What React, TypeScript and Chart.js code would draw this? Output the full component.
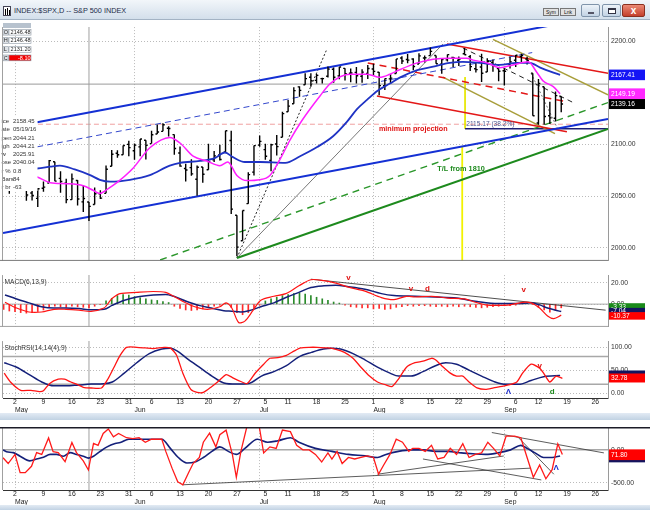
import React, { useEffect, useRef } from 'react';
import { Chart, registerables } from 'chart.js';

Chart.register(...registerables);

const FONT = '"Liberation Sans", Arial, Helvetica, sans-serif';
const GRID = 'rgba(105,105,105,0.45)';

// ---------- x axis: trading-day index (0 = 2 May 2016) ----------
const X_MIN = -2.11;
const X_MAX = 104.22;
const FIRST_BAR_INDEX = -2; // 28 Apr 2016
const weekTickIdx = [0, 5, 10, 15, 20, 24, 29, 34, 39, 44, 48, 53, 58, 63, 68, 73, 78, 83, 88, 92, 97, 102];
const weekTickLabels = ['2', '9', '16', '23', '31', '6', '13', '20', '27', '5', '11', '18', '25', '1', '8', '15', '22', '29', '6', '12', '19', '26'];
const monthStartIdx = [0, 21, 43, 63, 86];
const monthLabels = ['May', 'Jun', 'Jul', 'Aug', 'Sep'];

// ---------- S&P 500 daily bars (28 Apr – 16 Sep 2016) ----------
const opens = [2090.93, 2071.82,
  2067.17, 2077.18, 2060.30, 2052.95, 2047.77,
  2057.55, 2062.63, 2083.29, 2067.17, 2062.50,
  2046.53, 2065.04, 2044.38, 2044.21, 2041.88,
  2052.23, 2052.65, 2078.93, 2091.44, 2090.06,
  2100.13, 2093.94, 2097.71, 2104.07,
  2100.83, 2110.18, 2112.71, 2115.65, 2109.57,
  2091.75, 2076.65, 2077.60, 2066.36, 2078.20,
  2075.58, 2085.19, 2089.75, 2092.80, 2103.81,
  2031.45, 2006.67, 2042.69, 2073.17, 2099.34,
  2095.05, 2084.43, 2100.42, 2106.97,
  2131.72, 2139.50, 2155.81, 2157.88, 2165.13,
  2162.04, 2163.79, 2166.10, 2172.91, 2166.47,
  2173.71, 2168.97, 2169.81, 2166.05, 2168.83,
  2173.15, 2169.94, 2156.81, 2163.51, 2168.79,
  2183.76, 2182.24, 2182.81, 2177.97, 2183.74,
  2186.08, 2186.24, 2177.84, 2181.90, 2184.24,
  2181.58, 2187.81, 2185.09, 2173.29, 2175.10,
  2170.19, 2179.45, 2173.56, 2171.33, 2177.49,
  2181.61, 2185.17, 2182.76, 2169.08,
  2120.86, 2155.85, 2127.86, 2125.36, 2146.48];
const highs = [2099.30, 2073.85,
  2083.42, 2077.18, 2060.30, 2060.23, 2057.72,
  2064.15, 2084.87, 2083.29, 2073.99, 2066.79,
  2071.88, 2065.69, 2060.61, 2044.21, 2058.35,
  2055.58, 2079.67, 2094.73, 2094.30, 2099.06,
  2103.48, 2100.97, 2105.26, 2104.07,
  2113.36, 2119.22, 2120.55, 2117.64, 2109.57,
  2098.12, 2081.30, 2085.65, 2079.62, 2078.20,
  2100.66, 2093.66, 2099.71, 2113.32, 2113.32,
  2031.45, 2036.09, 2073.13, 2098.94, 2108.71,
  2100.72, 2100.72, 2109.08, 2131.71,
  2143.16, 2155.40, 2156.45, 2168.99, 2169.05,
  2168.35, 2164.63, 2175.63, 2174.56, 2175.11,
  2173.71, 2173.54, 2174.98, 2172.85, 2177.09,
  2178.29, 2170.20, 2163.79, 2168.19, 2182.87,
  2185.44, 2187.66, 2183.41, 2188.45, 2186.28,
  2193.81, 2186.24, 2183.08, 2187.03, 2185.00,
  2185.15, 2193.42, 2186.66, 2179.00, 2187.94,
  2183.48, 2182.27, 2173.79, 2173.56, 2184.87,
  2186.57, 2187.87, 2184.94, 2169.08,
  2163.30, 2155.85, 2141.33, 2151.31, 2146.48];
const lows = [2071.62, 2052.28,
  2066.11, 2054.89, 2045.55, 2045.77, 2039.45,
  2054.31, 2062.63, 2064.46, 2053.13, 2043.13,
  2046.53, 2040.82, 2034.49, 2025.91, 2041.88,
  2047.26, 2052.65, 2078.93, 2087.08, 2090.06,
  2088.66, 2085.10, 2088.59, 2085.36,
  2100.83, 2110.18, 2112.71, 2107.73, 2089.96,
  2078.46, 2064.10, 2069.80, 2050.37, 2062.84,
  2075.58, 2083.02, 2084.36, 2092.80, 2032.57,
  1991.68, 2006.67, 2042.69, 2070.00, 2097.90,
  2085.31, 2074.02, 2089.39, 2106.97,
  2131.72, 2139.50, 2146.21, 2157.88, 2155.79,
  2159.07, 2159.01, 2164.89, 2159.75, 2163.24,
  2161.95, 2160.18, 2159.07, 2159.74, 2163.49,
  2166.21, 2147.58, 2152.70, 2159.07, 2168.79,
  2177.85, 2178.61, 2172.00, 2177.97, 2179.42,
  2186.08, 2178.14, 2168.50, 2180.46, 2175.13,
  2175.96, 2186.80, 2171.25, 2169.74, 2160.39,
  2170.19, 2170.41, 2161.35, 2157.09, 2173.59,
  2175.10, 2179.07, 2177.49, 2127.81,
  2119.12, 2119.12, 2119.90, 2122.36, 2131.20];
const closes = [2075.81, 2065.30,
  2081.43, 2063.37, 2051.12, 2050.63, 2057.14,
  2058.69, 2084.39, 2064.46, 2064.11, 2046.61,
  2066.66, 2047.21, 2047.63, 2040.04, 2052.32,
  2048.04, 2076.06, 2090.54, 2090.10, 2099.06,
  2096.95, 2099.33, 2105.26, 2099.13,
  2109.41, 2112.13, 2119.12, 2115.48, 2096.07,
  2079.06, 2075.32, 2071.50, 2077.99, 2071.22,
  2083.25, 2088.90, 2085.45, 2113.32, 2037.41,
  2000.54, 2036.09, 2070.77, 2098.86, 2102.95,
  2088.55, 2099.73, 2097.90, 2129.90,
  2137.16, 2152.14, 2152.43, 2163.75, 2161.74,
  2166.89, 2163.78, 2173.02, 2165.17, 2175.03,
  2168.48, 2169.18, 2166.58, 2170.06, 2173.60,
  2170.84, 2157.03, 2163.79, 2164.25, 2182.87,
  2180.89, 2181.74, 2175.49, 2185.79, 2184.05,
  2190.15, 2178.15, 2182.22, 2187.02, 2183.87,
  2182.64, 2186.90, 2175.44, 2172.47, 2169.04,
  2180.38, 2176.12, 2170.95, 2170.86, 2179.98,
  2186.48, 2186.16, 2181.30, 2127.81,
  2159.04, 2127.02, 2125.77, 2147.26, 2139.16];

// ---------- moving averages [index, price] ----------
const maShort = [[-2, 2076], [1, 2072], [3.9, 2068.5], [6.2, 2063], [9.1, 2062], [12, 2060], [13.7, 2055.7], [14.9, 2052.5], [16.2, 2056.6], [17.9, 2063], [20.7, 2076.7], [23.7, 2096.8], [27.2, 2106.8], [29, 2101.4], [31.3, 2088.6], [33.7, 2084], [36, 2079.5], [37.4, 2083], [39, 2070], [40.8, 2065], [43, 2065.8], [44.8, 2070], [46.6, 2085.8], [48.3, 2104], [50.4, 2123], [53.6, 2147], [55.4, 2159], [58.9, 2168], [61.9, 2168], [64.1, 2165], [65.9, 2168], [67.7, 2172.6], [70.7, 2179], [73.5, 2182.6], [76.4, 2183.6], [79.4, 2183.6], [80.5, 2181.7], [83, 2179], [85.2, 2174.4], [87.5, 2177], [90.2, 2180], [91.7, 2170], [92.8, 2161.6], [94.6, 2156], [95.8, 2149.2]];
const maLong = [[-2, 2082], [1, 2079], [3.9, 2076.7], [6.2, 2078.5], [7.9, 2079.5], [10.5, 2075.8], [13.2, 2070.3], [14.9, 2065.8], [16.7, 2064], [20.2, 2065.8], [23.7, 2070.3], [27.2, 2079.5], [29, 2082.2], [32.5, 2084], [35.1, 2086.8], [36.9, 2092.2], [38.3, 2087.7], [40.4, 2083], [43.1, 2083], [47.5, 2082.2], [50.1, 2088.6], [53.1, 2097.5], [55.9, 2108], [58.4, 2122.4], [60.1, 2134.2], [61.9, 2143.4], [63.6, 2151.6], [65.9, 2159], [67.7, 2165], [70.7, 2172], [73.5, 2175.3], [76.4, 2179], [78.7, 2180], [81.7, 2179], [85.2, 2177], [88.2, 2179], [90.5, 2179], [92.3, 2174.4], [95.8, 2167.4]];

// ---------- hand-drawn trend lines [index, price] ----------
const channelUpper = [[3.9, 2121.5], [95.8, 2217.0]];
const channelMid = [[3.9, 2097.7], [90.9, 2189.0]];
const channelLower = [[-2.11, 2014.3], [104.22, 2124.8]];
const redUpper = [[75.9, 2197.3], [104.22, 2169.0]];
const redDashed = [[62.0, 2179.0], [96.7, 2141.6]];
const redProjection = [[63.6, 2147.0], [97.0, 2112.3]];
const oliveUpper = [[84.0, 2201.8], [104.22, 2148.0]];
const oliveLower = [[75.2, 2165.3], [94.9, 2110.5]];
const greenTrend = [[39.0, 1990.0], [104.22, 2115.1]];
const greenDashed = [[25.5, 1988.1], [104.22, 2140.6]];
const blackDotted = [[39.0, 1990.0], [54.7, 2190.9]];
const thinBlack = [[39.0, 1990.0], [75.2, 2197.3]];
const blackDashed = [[78.7, 2193.6], [98.1, 2140.6]];
const grayDotted = [[90.7, 2169.0], [95.3, 2116.0]];
const fibLevel = [[79.1, 2115.17], [104.3, 2115.17]];
const fibVertical = [[79.1, 2165.3], [79.1, 2115.17]];
const yellowMarker = [[78.6, 2097.7], [78.6, 1980]];
const pinkLevel = [[-3, 2119.6], [106, 2119.6]];
const crosshairPrice = 2158.45;
const crosshairIdx = 13;

const mainYTicks = [2000, 2050, 2100, 2200];
const mainNotes = ['minimum projection', 'T/L from 1810', '2115.17 (38.2%)'];
const mainNoteAt = [[70, 2115], [78.4, 2076.7], [79.3, 2119.4]];
const mainLastValues = [2167.41, 2149.19, 2139.16];
const mainLastTexts = ['2167.41', '2149.19', '2139.16'];
const ohlcLegendLetters = ['O', 'H', 'L', 'C'];
const ohlcLegendValues = ['2146.48', '2146.48', '2131.20', '-8.10'];
const dataWindowLabels = ['ice', 'ate', 'pen', 'igh', 'w', 'ose', 'r %', 'Bars', 'r br'];
const dataWindowValues = ['2158.45', '05/19/16', '2044.21', '2044.21', '2025.91', '2040.04', '0.8', '84', '-63'];

// ---------- MACD(6,13,9) ----------
const macdLine = [[-1.76, 1.7], [0.28, -3.7], [2.46, -7.4], [4.66, -7.4], [6.85, -4.9], [8.96, -4.9], [11.25, -5.7], [13.36, -6.9], [15.64, -3.7], [16.4, 1.0], [17.1, 5.5], [18.45, 9.9], [21.4, 11.1], [24.3, 11.9], [26.5, 11.1], [27.9, 7.4], [29.5, 2.5], [31.6, -2.5], [33.8, -4.9], [36, -2.5], [37.1, 1.2], [38.1, -3.7], [39.3, -17.3], [40.4, -16], [41.8, -6.2], [43.2, 3.7], [45.5, 7.4], [47.6, 9.9], [49.9, 17.3], [52, 23], [54.3, 22.2], [56.4, 19.8], [58.6, 16], [61.5, 12.3], [64.4, 6.2], [66.6, 4.2], [68.8, 7.4], [70.3, 6.7], [73.2, 7.4], [76.1, 5.7], [79, 4.9], [80.5, 2.5], [82.7, -0.7], [84.9, -1.2], [87, -0.7], [89.2, 1.7], [90.7, 1.2], [92.2, -3.7], [93.6, -11.1], [94.7, -13.6], [96, -10.4]];
const macdSignal = [[-1.76, 8.6], [0.28, 4.9], [2.46, 1.2], [4.66, -2.5], [6.85, -3.7], [8.96, -3.7], [11.25, -4.2], [13.36, -5.4], [15.64, -4.9], [17.05, -1.2], [19.25, 3.7], [21.4, 6.7], [24.3, 8.6], [26.5, 9.1], [27.9, 7.4], [30.2, 2.5], [32.3, -1.2], [34.5, -3.7], [36.7, -6.2], [38.1, -6.7], [39.7, -7.4], [41.1, -6.2], [43.2, -2.5], [45.5, 1.2], [47.6, 6.2], [49.9, 11.1], [52, 15.6], [54.3, 17.3], [56.4, 17.8], [58.6, 16.5], [61.5, 14.1], [64.4, 9.9], [66.6, 8.1], [70.3, 7.4], [73.9, 6.7], [77.6, 5.7], [81.2, 2.5], [84.9, 0.5], [88.5, 0.5], [90.7, 1.2], [92.2, -0.7], [93.6, -3.7], [96, -7.0]];
const macdHist = [
  -5, -6.5, -7, -8, -8.5, -8, -7, -5.5, -3, -2,
  -2.5, -3, -2, -2.5, -3, -3.5, -2, -0.5,
  3, 5.5, 8, 9, 8.5, 7, 6, 5, 4, 3.5, 2.5, 1.5,
  -2, -4, -5.5, -6, -5.5, -4.5, -3, -2, -1, 0.5, -3, -8, -10, -8, -4, -1,
  3, 5, 6.5, 8, 9, 10, 10.5, 9.5, 8, 6.5, 5, 3.5, 2, 1,
  -1, -2.5, -3, -3.5, -3.5, -4.5, -4, -5, -4.5, -3,
  -2.5, -1.5, -2, -1.5, -1.5, -2, -2.5, -2, -2.5, -2,
  -2.5, -2, -2.5, -3, -3.5, -3, -2.5, -2, -1.5, -1.5,
  -1, 0.5, 1, -0.5, -3, -5.5, -7.5, -6, -3.5];
const macdTrend = [[52, 23.5], [103.8, -5.7]];
const macdYTicks = [0, 20];
const macdNotes = ['v', 'v', 'd', 'v'];
const macdNoteAt = [[58.6, 24.7], [69.6, 14.8], [72.5, 14.8], [89.4, 13.6]];
const macdLastTexts = ['-3.33', '-7.04', '-10.37'];

// ---------- StochRSI(14,14(4),9) ----------
const rsiK = [[-1.9, 44], [-0.8, 25], [1.0, 7], [2.8, 7], [4.3, 4], [5.0, 6], [6.1, 22], [7.6, 31], [8.7, 31], [9.8, 25], [10.9, 20], [12.0, 13.5], [13.4, 12], [15.2, 12], [16.3, 31], [17.4, 57], [18.5, 83], [19.6, 100], [21.4, 100], [22.9, 98.7], [24.3, 97.4], [26.2, 100], [27.3, 98.7], [28.4, 83], [29.5, 44], [30.9, 9], [32.0, 2.6], [33.1, 2.6], [34.6, 15.4], [35.6, 25], [37.1, 41], [38.2, 34.6], [39.3, 28.2], [40.8, 21.8], [42.2, 44], [43.7, 63.5], [44.8, 76.3], [46.2, 77.6], [47.7, 82.7], [49.1, 92.3], [50.2, 98.7], [51.7, 100], [53.1, 100], [55.0, 98.7], [56.4, 95.5], [57.9, 89], [59.4, 76.3], [60.8, 57], [62.3, 37.8], [63.7, 25], [65.2, 18.6], [66.3, 15.4], [67.4, 31.4], [68.8, 57], [70.3, 66.7], [71.7, 70], [73.2, 76.3], [73.9, 73], [75.0, 60.3], [76.5, 44.2], [77.6, 37.8], [78.7, 37.8], [79.8, 25], [81.2, 12.2], [82.7, 9], [84.1, 12.2], [85.6, 15.4], [86.7, 18.6], [88.2, 25], [89.2, 44.2], [90.7, 63.5], [92.2, 55], [92.9, 44.2], [94.0, 25], [95.1, 37.8], [96.2, 33]];
const rsiD = [[-1.9, 66.7], [0.3, 57], [2.5, 41], [4.7, 25], [6.8, 16.7], [9.0, 16.7], [11.2, 18.6], [13.4, 20.5], [15.6, 21.2], [17.1, 25], [19.2, 44.2], [21.4, 66.7], [23.6, 86.5], [25.8, 96.2], [27.3, 98], [28.4, 92.9], [30.2, 76.3], [32.4, 57], [34.6, 37.8], [36.7, 23], [38.9, 20.5], [41.1, 21.8], [43.3, 37.8], [45.5, 47.4], [47.7, 60.3], [49.9, 79.5], [52.1, 89], [54.2, 96.2], [55.7, 98], [57.2, 96.2], [59.4, 86.5], [61.5, 73], [63.7, 57], [65.9, 44.2], [67.4, 37.8], [69.6, 37.8], [71.7, 47.4], [73.9, 60.3], [75.7, 66.7], [77.6, 63.5], [79.8, 50.6], [82.0, 37.8], [84.1, 26.3], [86.3, 19.9], [88.5, 19.9], [90.7, 28.2], [92.9, 36.5], [95.8, 39]];
const rsiBandLevels = [20, 80];
const rsiYTicks = [0, 50, 100];
const rsiNotes = ['Λ', 'v', 'd'];
const rsiNoteAt = [[86.7, 4.4], [92.2, 60], [94.4, 4.4]];
const rsiLastTexts = ['38.53', '32.78'];

// ---------- lower oscillator ----------
const oscRed = [[-2.1, -120], [-1.2, -208], [0, -69], [0.9, -347], [1.8, -347], [2.9, -250], [3.8, -42], [4.7, -69], [5.9, 181], [6.7, -28], [7.6, -42], [8.8, -181], [10, 111], [10.8, -42], [12, -167], [12.9, -306], [13.8, 97], [14.6, 69], [15.5, 250], [16.4, 319], [17.3, 200], [18.2, 250], [19.6, 185], [20.7, 171], [21.8, 185], [22.9, 116], [24.0, 162], [25.1, 162], [25.8, 162], [26.5, -23], [27.6, -278], [28.6, -486], [29.5, -532], [30.5, -347], [31.3, -208], [32.4, -116], [33.1, 116], [34.2, 255], [35.3, 46], [36.0, 231], [37.1, 301], [38.2, -69], [38.9, -417], [39.7, -23], [40.8, 370], [41.9, 393], [42.9, 370], [43.7, -46], [44.8, 46], [45.9, 23], [47.0, 301], [48.4, 278], [49.5, 69], [50.6, 0], [51.7, 0], [52.8, -69], [53.9, -185], [55.0, -46], [55.7, -139], [56.6, -23], [57.5, -208], [58.6, -116], [59.7, -139], [60.8, -116], [61.9, -92], [63.0, -116], [63.9, -370], [64.8, -231], [65.9, -69], [67.0, 162], [68.1, 116], [69.2, -23], [69.9, 23], [71.0, 23], [72.1, -23], [73.2, 69], [74.3, -139], [75.4, -116], [76.5, 23], [77.6, -69], [78.7, 93], [79.8, -116], [80.9, -69], [82.0, -46], [83.1, 116], [84.1, 23], [85.2, -92], [86.3, 208], [87.8, 208], [88.9, 185], [90.0, -116], [91.1, -417], [92.2, -231], [93.3, -440], [94.4, -301], [95.4, 93], [96.2, -69]];
const oscNavy = [[-2.1, 0], [-1.5, -28], [-0.3, -42], [0.9, -97], [2.6, -167], [3.8, -139], [5.0, -111], [6.2, -69], [7.3, -69], [8.5, -97], [9.7, -42], [10.8, -69], [12.0, -97], [12.9, -125], [13.8, -97], [14.9, -28], [16.1, 42], [17.6, 97], [18.5, 111], [20.0, 162], [22.2, 162], [24.3, 162], [25.8, 162], [27.3, 23], [28.7, -116], [30.2, -199], [31.6, -185], [33.1, -116], [34.6, -23], [36.0, 46], [37.5, -23], [38.9, -69], [40.4, 23], [42.6, 162], [44.4, 116], [46.2, 139], [48.4, 185], [49.9, 116], [52.8, 23], [55.7, -23], [58.6, -69], [61.5, -92], [63.7, -116], [65.2, -69], [67.4, -23], [69.6, 0], [71.7, 0], [73.9, -23], [76.1, -23], [78.4, -46], [80.5, -60], [82.7, -69], [84.9, -46], [87.1, 0], [88.9, 69], [90.0, 23], [91.4, -46], [92.9, -116], [94.4, -116], [95.8, -92]];
const oscTrends = [
  [[29.4, -532], [90.7, -278]],
  [[63.7, -371], [85.9, -93]],
  [[71.7, -139], [92.5, -458]],
  [[83.8, 264], [103.5, -46]],
  [[88.5, 185], [94.7, -371]],
];
const oscYTicks = [-500, 0];
const oscNotes = ['Λ'];
const oscNoteAt = [[95.1, -278]];
const oscLastTexts = ['71.80', ''];

// ---------- helpers ----------
const P = (a: number[][]) => a.map(([x, y]) => ({ x, y }));

function lineDs(data: any[], color: string, width: number, extra: any = {}) {
  return { type: 'line', data, borderColor: color, borderWidth: width, pointRadius: 0, pointHoverRadius: 0, fill: false, tension: 0, ...extra };
}

function levelLine(v: number) {
  return [{ x: X_MIN - 2, y: v }, { x: X_MAX + 2, y: v }];
}

function vertLine(x: number, lo: number, hi: number) {
  return [{ x, y: lo }, { x, y: hi }];
}

function ohlcPoints() {
  const pts: any[] = [];
  closes.forEach((c, k) => {
    const i = FIRST_BAR_INDEX + k;
    pts.push({ x: i, y: lows[k] }, { x: i, y: highs[k] }, { x: i, y: null });
    pts.push({ x: i - 0.32, y: opens[k] }, { x: i, y: opens[k] }, { x: i, y: null });
    pts.push({ x: i, y: c }, { x: i + 0.32, y: c }, { x: i, y: null });
  });
  return pts;
}

const xCommon = { type: 'linear', min: X_MIN, max: X_MAX, offset: false };

function xHidden() {
  return {
    ...xCommon,
    afterBuildTicks: (s: any) => { s.ticks = monthStartIdx.map((v) => ({ value: v })); },
    afterFit: (s: any) => { s.height = 0; },
    ticks: { display: false },
    grid: { color: GRID, lineWidth: 1, drawTicks: false, offset: false },
    border: { display: false, dash: [1, 2] },
  };
}

function xWeeks() {
  return {
    ...xCommon,
    position: 'bottom',
    weight: 0,
    afterBuildTicks: (s: any) => { s.ticks = weekTickIdx.map((v) => ({ value: v })); },
    afterFit: (s: any) => { s.height = 8; },
    ticks: {
      autoSkip: false, maxRotation: 0, minRotation: 0, padding: 0,
      font: { size: 6.8, family: FONT, lineHeight: 1.2 }, color: '#222',
      callback: (_v: any, i: number) => weekTickLabels[i],
    },
    grid: { color: 'rgba(0,0,0,0)', drawTicks: false, offset: false },
    border: { display: true, color: '#333', width: 1 },
  };
}

function xMonths() {
  return {
    ...xCommon,
    position: 'bottom',
    weight: 1,
    afterBuildTicks: (s: any) => { s.ticks = monthStartIdx.map((v) => ({ value: v })); },
    afterFit: (s: any) => { s.height = 7; },
    ticks: {
      autoSkip: false, maxRotation: 0, minRotation: 0, padding: 0, align: 'start',
      font: { size: 6.8, family: FONT, lineHeight: 1.2 }, color: '#222',
      callback: (_v: any, i: number) => monthLabels[i],
    },
    grid: { color: GRID, drawTicks: false, offset: false },
    border: { display: false, dash: [1, 2] },
  };
}

function yAxis(min: number, max: number, ticksArr: number[]) {
  return {
    type: 'linear', position: 'right', min, max,
    afterBuildTicks: (s: any) => { s.ticks = ticksArr.map((v) => ({ value: v })); },
    afterFit: (s: any) => { s.width = 42; },
    ticks: { padding: 3, font: { size: 6.8, family: FONT }, color: '#333', callback: (v: any) => Number(v).toFixed(2) },
    grid: { color: GRID, drawTicks: false },
    border: { display: true, color: '#9a9a9a', width: 1, dash: [1, 2] },
  };
}

function baseOptions(scales: any) {
  return {
    responsive: false,
    animation: false,
    events: [],
    layout: { padding: { left: 3, right: 0, top: 0, bottom: 0 } },
    plugins: { legend: { display: false }, tooltip: { enabled: false } },
    elements: { point: { radius: 0 }, line: { tension: 0 } },
    scales,
  };
}

function notesPlugin(texts: string[], at: number[][], styles: any[]) {
  return {
    id: 'notes',
    afterDatasetsDraw(chart: any) {
      const { ctx, scales } = chart;
      ctx.save();
      ctx.textBaseline = 'middle';
      texts.forEach((t, k) => {
        const st = styles[k];
        ctx.font = st.font;
        ctx.fillStyle = st.color;
        ctx.textAlign = st.align || 'center';
        ctx.fillText(t, scales.x.getPixelForValue(at[k][0]), scales.y.getPixelForValue(at[k][1]));
      });
      ctx.restore();
    },
  };
}

function boxesPlugin(boxes: { v: number; h: number; bg: string; text: string }[]) {
  return {
    id: 'lastBoxes',
    afterDraw(chart: any) {
      const { ctx, chartArea: a, scales } = chart;
      ctx.save();
      boxes.forEach((b) => {
        const cy = scales.y.getPixelForValue(b.v);
        ctx.fillStyle = b.bg;
        ctx.fillRect(a.right + 1, cy - b.h / 2, 36, b.h);
        if (b.text) {
          ctx.fillStyle = '#fff';
          ctx.font = `6.6px ${FONT}`;
          ctx.textAlign = 'left';
          ctx.textBaseline = 'middle';
          ctx.fillText(b.text, a.right + 3, cy + 0.5);
        }
      });
      ctx.restore();
    },
  };
}

function framePlugin(edges: { left?: string; top?: string; bottom?: string; topWidth?: number }) {
  return {
    id: 'frame',
    afterDraw(chart: any) {
      const { ctx, chartArea: a } = chart;
      ctx.save();
      ctx.lineWidth = 1;
      if (edges.left) {
        ctx.strokeStyle = edges.left;
        ctx.beginPath(); ctx.moveTo(a.left - 0.5, a.top); ctx.lineTo(a.left - 0.5, a.bottom); ctx.stroke();
      }
      if (edges.bottom) {
        ctx.strokeStyle = edges.bottom;
        ctx.beginPath(); ctx.moveTo(0, a.bottom - 0.5); ctx.lineTo(a.right, a.bottom - 0.5); ctx.stroke();
      }
      if (edges.top) {
        ctx.strokeStyle = edges.top;
        ctx.lineWidth = edges.topWidth || 1;
        ctx.beginPath(); ctx.moveTo(0, a.top + 0.75); ctx.lineTo(650, a.top + 0.75); ctx.stroke();
      }
      ctx.restore();
    },
  };
}

function titlePlugin(text: string) {
  return {
    id: 'panelTitle',
    afterDraw(chart: any) {
      const { ctx, chartArea: a } = chart;
      ctx.save();
      ctx.font = `6.6px ${FONT}`;
      ctx.fillStyle = '#333';
      ctx.textAlign = 'left';
      ctx.textBaseline = 'middle';
      ctx.fillText(text, a.left + 1.5, a.top + 7);
      ctx.restore();
    },
  };
}

const mainOverlay = {
  id: 'mainOverlay',
  afterDraw(chart: any) {
    const ctx = chart.ctx;
    ctx.save();
    // data window (partly hidden at the left edge)
    ctx.fillStyle = '#fff';
    ctx.fillRect(0, 96, 37.5, 75);
    ctx.font = `6px ${FONT}`;
    ctx.fillStyle = '#333';
    ctx.textAlign = 'left';
    ctx.textBaseline = 'middle';
    dataWindowLabels.forEach((t, k) => {
      const y = 101.5 + k * 8.25;
      ctx.fillText(t, 1.5, y);
      ctx.fillText(dataWindowValues[k], 13, y);
    });
    // OHLC legend box
    ctx.fillStyle = '#b7c2ce';
    ctx.fillRect(3, 3, 28, 5);
    const tops = [9.3, 17.7, 26.7, 35];
    ohlcLegendLetters.forEach((l, k) => {
      const t = tops[k];
      ctx.fillStyle = '#dfe3e8';
      ctx.fillRect(3, t, 5.5, 5.8);
      ctx.fillStyle = k === 3 ? '#f20000' : '#fff';
      ctx.fillRect(9, t, 22, 5.8);
      ctx.strokeStyle = '#8d98a4';
      ctx.lineWidth = 0.6;
      ctx.strokeRect(3, t, 5.5, 5.8);
      ctx.strokeRect(9, t, 22, 5.8);
      ctx.font = `5.5px ${FONT}`;
      ctx.fillStyle = '#222';
      ctx.textAlign = 'left';
      ctx.fillText(l, 3.8, t + 3.1);
      ctx.fillStyle = k === 3 ? '#fff' : '#222';
      ctx.textAlign = 'right';
      ctx.fillText(ohlcLegendValues[k], 30.5, t + 3.1);
    });
    ctx.restore();
  },
};

// ---------- chart configs ----------
const MAIN_MIN = 1987.2;
const MAIN_MAX = 2213.7;
const MACD_MIN = -21.5;
const MACD_MAX = 27.4;
const RSI_MIN = -9.6;
const RSI_MAX = 113.5;
const OSC_MIN = -611;
const OSC_MAX = 347;

function mainConfig() {
  return {
    type: 'line',
    data: {
      datasets: [
        lineDs(P(maShort), '#ff1eff', 1.5, { cubicInterpolationMode: 'monotone' }),
        lineDs(P(maLong), '#1f33c4', 1.8, { cubicInterpolationMode: 'monotone' }),
        lineDs(ohlcPoints(), '#000', 1.4),
        lineDs(P(channelUpper), '#1430d4', 2),
        lineDs(P(channelLower), '#1430d4', 2),
        lineDs(P(channelMid), '#3347cc', 1, { borderDash: [6, 4] }),
        lineDs(P(redUpper), '#e31717', 1.5),
        lineDs(P(redDashed), '#e31717', 1.5, { borderDash: [7, 5] }),
        lineDs(P(redProjection), '#e31717', 1.5),
        lineDs(P(oliveUpper), '#a89e3a', 1.5),
        lineDs(P(oliveLower), '#a89e3a', 1.5),
        lineDs(P(greenTrend), '#1d8a1d', 2),
        lineDs(P(greenDashed), '#2a962a', 1.4, { borderDash: [7, 5] }),
        lineDs(P(blackDotted), '#222', 1, { borderDash: [2, 2] }),
        lineDs(P(thinBlack), '#555', 0.8),
        lineDs(P(blackDashed), '#222', 1, { borderDash: [5, 4] }),
        lineDs(P(grayDotted), '#777', 1, { borderDash: [2, 2] }),
        lineDs(P(fibLevel), '#1e1e72', 1.5),
        lineDs(P(fibVertical), '#e6e600', 1),
        lineDs(P(yellowMarker), '#f2f200', 1.8),
        lineDs(levelLine(crosshairPrice), '#9a9a9a', 1),
        lineDs(vertLine(crosshairIdx, MAIN_MIN - 20, MAIN_MAX + 20), '#a0a0a0', 1),
        lineDs(P(pinkLevel), '#f0a0a0', 1, { borderDash: [5, 3] }),
      ],
    },
    options: baseOptions({ x: xHidden(), y: yAxis(MAIN_MIN, MAIN_MAX, mainYTicks) }),
    plugins: [
      notesPlugin(mainNotes, mainNoteAt, [
        { font: `bold 7.2px ${FONT}`, color: '#e01010' },
        { font: `bold 7.3px ${FONT}`, color: '#1d8a1d' },
        { font: `6.6px ${FONT}`, color: '#4d5890', align: 'left' },
      ]),
      mainOverlay,
      framePlugin({ left: '#a0a0a0', bottom: '#7a7a7a' }),
      boxesPlugin([
        { v: mainLastValues[0], h: 10.6, bg: '#1414f5', text: mainLastTexts[0] },
        { v: mainLastValues[1], h: 10.6, bg: '#ff28ff', text: mainLastTexts[1] },
        { v: mainLastValues[2], h: 10, bg: '#000', text: mainLastTexts[2] },
      ]),
    ],
  };
}

function macdConfig() {
  return {
    type: 'line',
    data: {
      datasets: [
        lineDs(P(macdLine), '#ff1414', 1.2, { tension: 0.3 }),
        lineDs(P(macdSignal), '#14207a', 1.5, { cubicInterpolationMode: 'monotone' }),
        lineDs(P(macdTrend), '#222', 0.8),
        {
          type: 'bar',
          data: macdHist.map((v, k) => ({ x: FIRST_BAR_INDEX + k, y: v })),
          backgroundColor: macdHist.map((v) => (v >= 0 ? '#2a8a2a' : '#ff2a2a')),
          barThickness: 1,
          grouped: false,
          borderWidth: 0,
        },
        lineDs(levelLine(0), '#a8a8a8', 1),
        lineDs(vertLine(crosshairIdx, MACD_MIN - 5, MACD_MAX + 5), '#a0a0a0', 1),
      ],
    },
    options: baseOptions({ x: xHidden(), y: yAxis(MACD_MIN, MACD_MAX, macdYTicks) }),
    plugins: [
      notesPlugin(macdNotes, macdNoteAt, macdNotes.map(() => ({ font: `bold 8px ${FONT}`, color: '#e01010' }))),
      titlePlugin('MACD(6,13,9)'),
      framePlugin({ left: '#a0a0a0', bottom: '#a0a0a0' }),
      boxesPlugin([
        { v: -2.2, h: 6.5, bg: '#1a8a1a', text: macdLastTexts[0] },
        { v: -5.9, h: 5, bg: '#14145e', text: macdLastTexts[1] },
        { v: -11.1, h: 7.5, bg: '#ff0000', text: macdLastTexts[2] },
      ]),
    ],
  };
}

function rsiConfig() {
  return {
    type: 'line',
    data: {
      datasets: [
        lineDs(P(rsiK), '#ff1414', 1.3, { tension: 0.2 }),
        lineDs(P(rsiD), '#14207a', 1.5, { cubicInterpolationMode: 'monotone' }),
        ...rsiBandLevels.map((lv) => lineDs(levelLine(lv), '#a8a8a8', 1.5)),
        lineDs(vertLine(crosshairIdx, RSI_MIN - 5, RSI_MAX + 5), '#a0a0a0', 1),
      ],
    },
    options: baseOptions({ x: xWeeks(), x2: xMonths(), y: yAxis(RSI_MIN, RSI_MAX, rsiYTicks) }),
    plugins: [
      notesPlugin(rsiNotes, rsiNoteAt, [
        { font: `bold 8px ${FONT}`, color: '#1c2ccc' },
        { font: `bold 8px ${FONT}`, color: '#e01010' },
        { font: `bold 8px ${FONT}`, color: '#1d8a1d' },
      ]),
      titlePlugin('StochRSI(14,14(4),9)'),
      framePlugin({ left: '#a0a0a0' }),
      boxesPlugin([
        { v: 45.6, h: 4, bg: '#14145e', text: '' },
        { v: 33.7, h: 9, bg: '#ff0000', text: rsiLastTexts[1] },
      ]),
    ],
  };
}

function oscConfig() {
  return {
    type: 'line',
    data: {
      datasets: [
        lineDs(P(oscRed), '#ff1a1a', 1.3),
        lineDs(P(oscNavy), '#14207a', 1.6, { cubicInterpolationMode: 'monotone' }),
        ...oscTrends.map((t) => lineDs(P(t), '#333', 0.8)),
        lineDs(levelLine(0), '#a8a8a8', 1.5),
        lineDs(vertLine(crosshairIdx, OSC_MIN - 50, OSC_MAX + 50), '#a0a0a0', 1),
      ],
    },
    options: baseOptions({ x: xWeeks(), x2: xMonths(), y: yAxis(OSC_MIN, OSC_MAX, oscYTicks) }),
    plugins: [
      notesPlugin(oscNotes, oscNoteAt, [{ font: `bold 8px ${FONT}`, color: '#1c2ccc' }]),
      framePlugin({ left: '#a0a0a0', top: '#1c1c28', topWidth: 1.5 }),
      boxesPlugin([
        { v: -167, h: 3, bg: '#14145e', text: oscLastTexts[1] },
        { v: -74, h: 10.7, bg: '#ff0000', text: oscLastTexts[0] },
      ]),
    ],
  };
}

// ---------- component ----------
const winBtn = (left: number, width: number, bg: string, border: string): any => ({
  position: 'absolute', left, top: 4, width, height: 13, background: bg, border: `1px solid ${border}`,
  borderRadius: 2, boxSizing: 'border-box',
});

export default function App() {
  const mainRef = useRef<HTMLCanvasElement>(null);
  const macdRef = useRef<HTMLCanvasElement>(null);
  const rsiRef = useRef<HTMLCanvasElement>(null);
  const oscRef = useRef<HTMLCanvasElement>(null);

  useEffect(() => {
    const charts = [
      new Chart(mainRef.current as any, mainConfig() as any),
      new Chart(macdRef.current as any, macdConfig() as any),
      new Chart(rsiRef.current as any, rsiConfig() as any),
      new Chart(oscRef.current as any, oscConfig() as any),
    ];
    return () => charts.forEach((c) => c.destroy());
  }, []);

  const canvasStyle = (top: number, height: number): any => ({ position: 'absolute', left: 0, top, width: 650, height, display: 'block' });

  return (
    <div style={{ position: 'fixed', left: 0, top: 0, width: 650, height: 510, background: '#fff', overflow: 'hidden', fontFamily: FONT }}>
      {/* title bar */}
      <div style={{ position: 'absolute', left: 0, top: 0, width: 650, height: 20, background: 'linear-gradient(to bottom, #f2f6fa 0%, #d3dfeb 100%)', borderBottom: '1px solid #a3b3c4', boxSizing: 'border-box' }}>
        <div style={{ position: 'absolute', left: 3, top: 6, width: 8, height: 10, background: '#fff', border: '1px solid #445', boxSizing: 'border-box' }}>
          <div style={{ position: 'absolute', left: 1, top: 2, width: 1, height: 6, background: '#000' }} />
          <div style={{ position: 'absolute', left: 3, top: 1, width: 1, height: 7, background: '#000' }} />
          <div style={{ position: 'absolute', left: 5, top: 3, width: 1, height: 5, background: '#000' }} />
        </div>
        <div style={{ position: 'absolute', left: 14, top: 5, fontSize: 7.3, lineHeight: '12px', color: '#1d2b48', whiteSpace: 'nowrap' }}>{'INDEX:$SPX,D -- S&P 500 INDEX'}</div>
        <div style={{ position: 'absolute', left: 543, top: 8, width: 16, height: 8, background: '#e2e2e2', border: '1px solid #777', boxSizing: 'border-box', fontSize: 5, lineHeight: '6px', textAlign: 'center', color: '#111' }}>Sym</div>
        <div style={{ position: 'absolute', left: 560, top: 8, width: 16, height: 8, background: '#e2e2e2', border: '1px solid #777', boxSizing: 'border-box', fontSize: 5, lineHeight: '6px', textAlign: 'center', color: '#111' }}>Lnk</div>
        <div style={winBtn(581, 19, 'linear-gradient(#edf3f9,#c3d3e4)', '#8094aa')}>
          <div style={{ position: 'absolute', left: 6, top: 7, width: 6, height: 2, background: '#fff', border: '1px solid #556', boxSizing: 'border-box' }} />
        </div>
        <div style={winBtn(602, 19, 'linear-gradient(#edf3f9,#c3d3e4)', '#8094aa')}>
          <div style={{ position: 'absolute', left: 5, top: 3, width: 8, height: 6, border: '1px solid #334', borderTopWidth: 2, boxSizing: 'border-box', background: '#fff' }} />
        </div>
        <div style={{ ...winBtn(622, 23, 'linear-gradient(#ec8a76,#c4402c)', '#8a3020'), color: '#fff', fontSize: 10, fontWeight: 'bold', lineHeight: '11px', textAlign: 'center' }}>x</div>
      </div>

      <canvas ref={mainRef} width={650} height={248} style={canvasStyle(20, 248)} />
      <canvas ref={macdRef} width={650} height={66} style={canvasStyle(268, 66)} />
      <canvas ref={rsiRef} width={650} height={79} style={canvasStyle(334, 79)} />
      <div style={{ position: 'absolute', left: 0, top: 413, width: 650, height: 7, background: 'linear-gradient(#e3ebf4,#c1d2e3)' }} />
      <canvas ref={oscRef} width={650} height={85} style={canvasStyle(420, 85)} />
      <div style={{ position: 'absolute', left: 0, top: 505, width: 650, height: 5, background: 'linear-gradient(#e3ebf4,#c1d2e3)' }} />
    </div>
  );
}
